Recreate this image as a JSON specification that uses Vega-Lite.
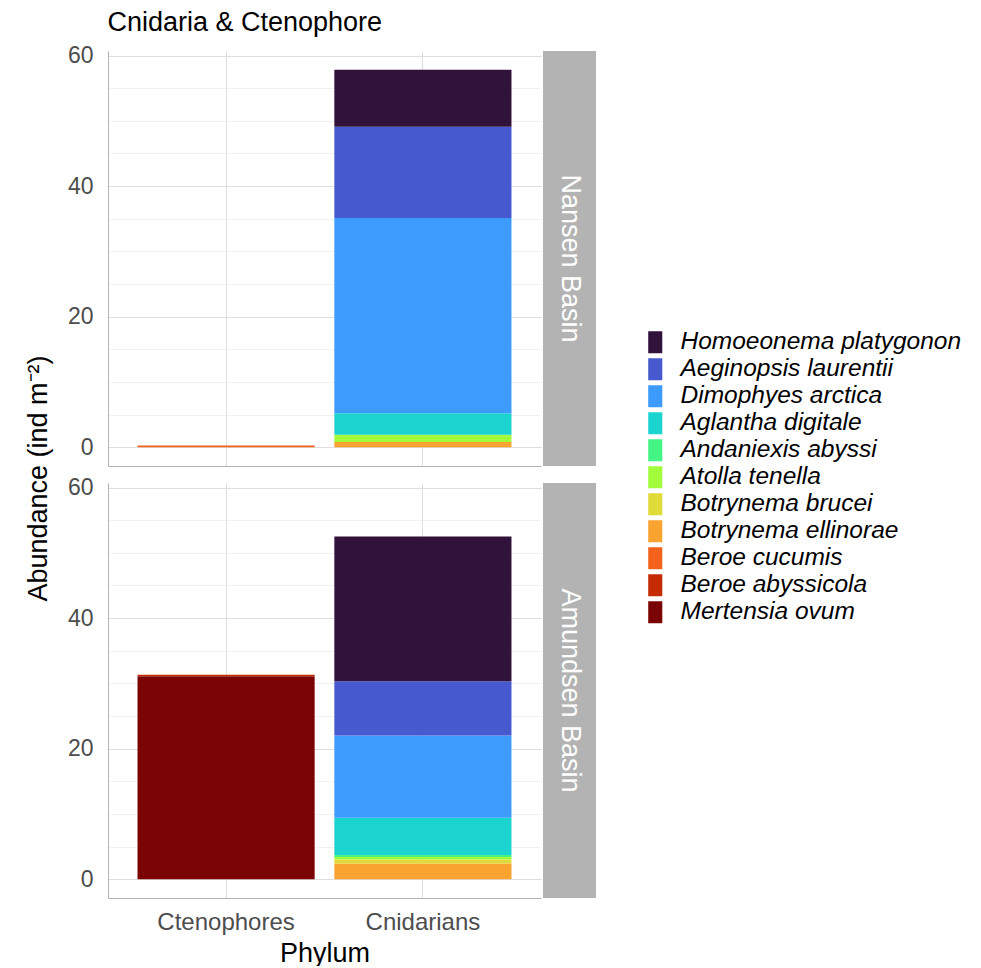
{
  "$schema": "https://vega.github.io/schema/vega-lite/v6.json",
  "padding": {"left": 24, "top": 8, "right": 5, "bottom": 0},
  "title": {"text": "Cnidaria & Ctenophore", "dx": 83},
  "data": {"values": [
    {"Basin": "Nansen Basin", "Phylum": "Ctenophores", "Species": "Beroe cucumis", "Abundance": 0.25},
    {"Basin": "Nansen Basin", "Phylum": "Cnidarians", "Species": "Botrynema ellinorae", "Abundance": 0.8},
    {"Basin": "Nansen Basin", "Phylum": "Cnidarians", "Species": "Atolla tenella", "Abundance": 1.1},
    {"Basin": "Nansen Basin", "Phylum": "Cnidarians", "Species": "Aglantha digitale", "Abundance": 3.3},
    {"Basin": "Nansen Basin", "Phylum": "Cnidarians", "Species": "Dimophyes arctica", "Abundance": 29.9},
    {"Basin": "Nansen Basin", "Phylum": "Cnidarians", "Species": "Aeginopsis laurentii", "Abundance": 14.0},
    {"Basin": "Nansen Basin", "Phylum": "Cnidarians", "Species": "Homoeonema platygonon", "Abundance": 8.7},
    {"Basin": "Amundsen Basin", "Phylum": "Ctenophores", "Species": "Mertensia ovum", "Abundance": 31.1},
    {"Basin": "Amundsen Basin", "Phylum": "Ctenophores", "Species": "Beroe abyssicola", "Abundance": 0.2},
    {"Basin": "Amundsen Basin", "Phylum": "Cnidarians", "Species": "Botrynema ellinorae", "Abundance": 2.4},
    {"Basin": "Amundsen Basin", "Phylum": "Cnidarians", "Species": "Botrynema brucei", "Abundance": 0.6},
    {"Basin": "Amundsen Basin", "Phylum": "Cnidarians", "Species": "Atolla tenella", "Abundance": 0.4},
    {"Basin": "Amundsen Basin", "Phylum": "Cnidarians", "Species": "Andaniexis abyssi", "Abundance": 0.3},
    {"Basin": "Amundsen Basin", "Phylum": "Cnidarians", "Species": "Aglantha digitale", "Abundance": 5.7},
    {"Basin": "Amundsen Basin", "Phylum": "Cnidarians", "Species": "Dimophyes arctica", "Abundance": 12.6},
    {"Basin": "Amundsen Basin", "Phylum": "Cnidarians", "Species": "Aeginopsis laurentii", "Abundance": 8.3},
    {"Basin": "Amundsen Basin", "Phylum": "Cnidarians", "Species": "Homoeonema platygonon", "Abundance": 22.2}
  ]},
  "transform": [
    {"calculate": "indexof(['Homoeonema platygonon','Aeginopsis laurentii','Dimophyes arctica','Aglantha digitale','Andaniexis abyssi','Atolla tenella','Botrynema brucei','Botrynema ellinorae','Beroe cucumis','Beroe abyssicola','Mertensia ovum'], datum.Species)", "as": "ord"}
  ],
  "spacing": 2,
  "hconcat": [
    {
      "spacing": 17,
      "bounds": "flush",
      "vconcat": [
        {
          "width": 433, "height": 415,
          "transform": [{"filter": "datum.Basin === 'Nansen Basin'"}],
          "mark": {"type": "bar"},
          "encoding": {
            "x": {"field": "Phylum", "type": "nominal", "sort": ["Ctenophores", "Cnidarians"],
                  "scale": {"paddingInner": 0.1, "paddingOuter": 0.15},
                  "axis": {"labels": false, "ticks": false, "title": null, "bandPosition": 0.5, "grid": true, "gridColor": "#DEDEDE", "domainColor": "#B3B3B3"}},
            "y": {"field": "Abundance", "type": "quantitative", "stack": "zero",
                  "scale": {"domain": [-2.89, 60.69], "nice": false, "zero": false},
                  "axis": {"title": "Abundance (ind m⁻²)", "titleColor": "transparent"}},
            "color": {"field": "Species", "type": "nominal",
                      "scale": {"domain": ["Homoeonema platygonon","Aeginopsis laurentii","Dimophyes arctica","Aglantha digitale","Andaniexis abyssi","Atolla tenella","Botrynema brucei","Botrynema ellinorae","Beroe cucumis","Beroe abyssicola","Mertensia ovum"],
                                "range": ["#30123B","#4659CE","#3C9BFD","#1CD4CF","#44F585","#A2FC3C","#E0DB38","#FBA331","#F2621A","#C52C05","#7A0403"]},
                      "legend": {"title": null}},
            "order": {"field": "ord", "type": "quantitative", "sort": "descending"}
          }
        },
        {
          "width": 433, "height": 415,
          "transform": [{"filter": "datum.Basin === 'Amundsen Basin'"}],
          "mark": {"type": "bar"},
          "encoding": {
            "x": {"field": "Phylum", "type": "nominal", "sort": ["Ctenophores", "Cnidarians"],
                  "scale": {"paddingInner": 0.1, "paddingOuter": 0.15},
                  "axis": {"title": "Phylum", "labelAngle": 0, "ticks": false, "labelPadding": 12, "labelFontSize": 24, "labelColor": "#4D4D4D", "titleFontSize": 27, "titleFontWeight": "normal", "titleColor": "black", "titlePadding": 6, "bandPosition": 0.5, "grid": true, "gridColor": "#DEDEDE", "domainColor": "#B3B3B3"}},
            "y": {"field": "Abundance", "type": "quantitative", "stack": "zero",
                  "scale": {"domain": [-2.89, 60.69], "nice": false, "zero": false},
                  "axis": {"title": "Abundance (ind m⁻²)", "titleY": -5}},
            "color": {"field": "Species", "type": "nominal",
                      "scale": {"domain": ["Homoeonema platygonon","Aeginopsis laurentii","Dimophyes arctica","Aglantha digitale","Andaniexis abyssi","Atolla tenella","Botrynema brucei","Botrynema ellinorae","Beroe cucumis","Beroe abyssicola","Mertensia ovum"],
                                "range": ["#30123B","#4659CE","#3C9BFD","#1CD4CF","#44F585","#A2FC3C","#E0DB38","#FBA331","#F2621A","#C52C05","#7A0403"]},
                      "legend": {"title": null}},
            "order": {"field": "ord", "type": "quantitative", "sort": "descending"}
          }
        }
      ]
    },
    {
      "spacing": 17,
      "bounds": "flush",
      "vconcat": [
        {
          "width": 53, "height": 415,
          "view": {"fill": "#B3B3B3", "stroke": null},
          "transform": [{"filter": "datum.Basin === 'Nansen Basin'"}, {"aggregate": [{"op": "count", "as": "n"}], "groupby": ["Basin"]}],
          "mark": {"type": "text", "angle": 90, "color": "white", "fontSize": 27, "align": "center", "baseline": "middle"},
          "encoding": {"text": {"field": "Basin", "type": "nominal"}}
        },
        {
          "width": 53, "height": 415,
          "view": {"fill": "#B3B3B3", "stroke": null},
          "transform": [{"filter": "datum.Basin === 'Amundsen Basin'"}, {"aggregate": [{"op": "count", "as": "n"}], "groupby": ["Basin"]}],
          "mark": {"type": "text", "angle": 90, "color": "white", "fontSize": 27, "align": "center", "baseline": "middle"},
          "encoding": {"text": {"field": "Basin", "type": "nominal"}}
        }
      ]
    }
  ],
  "resolve": {"scale": {"color": "shared"}, "legend": {"color": "shared"}},
  "config": {
    "font": "Liberation Sans",
    "view": {"stroke": null},
    "title": {"fontSize": 27, "fontWeight": "normal", "anchor": "start", "color": "black", "offset": 8},
    "axisY": {
      "values": [0, 10, 20, 30, 40, 50, 60],
      "labelExpr": "datum.value % 20 === 0 ? datum.label : ''",
      "ticks": false, "labelFontSize": 23, "labelColor": "#4D4D4D", "labelPadding": 15,
      "domainColor": "#B3B3B3",
      "gridColor": {"condition": {"test": "datum.value % 20 === 0", "value": "#DEDEDE"}, "value": "#EBEBEB"},
      "gridWidth": {"condition": {"test": "datum.value % 20 === 0", "value": 1.2}, "value": 0.7},
      "titleFontSize": 27, "titleFontWeight": "normal", "titleColor": "black", "titlePadding": 15
    },
    "legend": {
      "orient": "none", "legendX": 535, "legendY": 279,
      "labelFontSize": 24.5, "labelFontStyle": "italic", "labelColor": "black", "labelLimit": 400, "labelOffset": 13,
      "symbolType": "M-0.64,-1H0.64V1H-0.64Z", "symbolSize": 484, "symbolStrokeWidth": 0, "symbolOpacity": 1,
      "rowPadding": 2
    }
  }
}
